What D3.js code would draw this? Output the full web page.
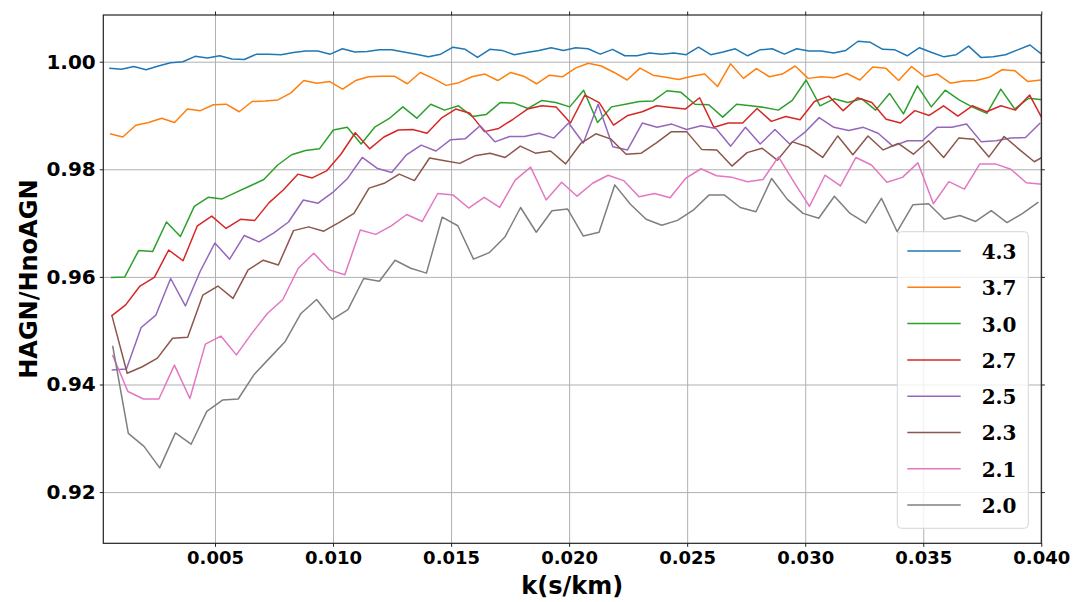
<!DOCTYPE html>
<html>
<head>
<meta charset="utf-8">
<script src="https://cdn.jsdelivr.net/npm/d3@7"></script>
<style>
  body { margin: 0; background: #fff; }
  text { font-weight: bold; }
</style>
</head>
<body>
<svg id="chart" width="1076" height="602"></svg>
<script>
// Ratio of the flux power spectra with / without AGN feedback, one curve per redshift
const redshifts = ["4.3", "3.7", "3.0", "2.7", "2.5", "2.3", "2.1", "2.0"];
const colors = ["#1f77b4", "#ff7f0e", "#2ca02c", "#d62728", "#9467bd", "#8c564b", "#e377c2", "#7f7f7f"];

// k grid spacing (s/km) of each redshift, k_i = (i + 1) * step
const kStep = [0.000520, 0.0005477, 0.000589, 0.0006078, 0.0006243, 0.0006404, 0.0006561, 0.0006646];

const ratioZ43 = [
  0.9988, 0.9986, 0.9991, 0.9985, 0.9992, 0.9998, 1.0000, 1.0010, 1.0007, 1.0011,
  1.0005, 1.0004, 1.0014, 1.0014, 1.0013, 1.0017, 1.0020, 1.0020, 1.0014, 1.0024,
  1.0018, 1.0019, 1.0022, 1.0022, 1.0018, 1.0014, 1.0009, 1.0014, 1.0027, 1.0023,
  1.0008, 1.0023, 1.0021, 1.0013, 1.0017, 1.0021, 1.0026, 1.0021, 1.0026, 1.0024,
  1.0014, 1.0023, 1.0011, 1.0011, 1.0016, 1.0014, 1.0016, 1.0013, 1.0027, 1.0013,
  1.0018, 1.0024, 1.0011, 1.0022, 1.0024, 1.0014, 1.0024, 1.0020, 1.0020, 1.0016,
  1.0021, 1.0038, 1.0036, 1.0023, 1.0022, 1.0011, 1.0026, 1.0017, 1.0009, 1.0013,
  1.0029, 1.0008, 1.0009, 1.0013, 1.0022, 1.0031, 1.0013
];
const ratioZ37 = [
  0.9866, 0.9860, 0.9882, 0.9887, 0.9895, 0.9887, 0.9912, 0.9909, 0.9920, 0.9921,
  0.9907, 0.9926, 0.9927, 0.9929, 0.9942, 0.9965, 0.9960, 0.9963, 0.9949, 0.9965,
  0.9972, 0.9973, 0.9973, 0.9959, 0.9980, 0.9969, 0.9956, 0.9961, 0.9972, 0.9977,
  0.9965, 0.9980, 0.9973, 0.9959, 0.9975, 0.9972, 0.9988, 0.9997, 0.9992, 0.9980,
  0.9966, 0.9988, 0.9975, 0.9971, 0.9967, 0.9973, 0.9977, 0.9954, 0.9996, 0.9969,
  0.9987, 0.9972, 0.9977, 0.9992, 0.9969, 0.9972, 0.9970, 0.9978, 0.9966, 0.9990,
  0.9988, 0.9965, 0.9991, 0.9972, 0.9977, 0.9960, 0.9964, 0.9965, 0.9971, 0.9985,
  0.9983, 0.9963, 0.9966
];
const ratioZ30 = [
  0.9599, 0.9600, 0.9649, 0.9647, 0.9702, 0.9675, 0.9731, 0.9748, 0.9745, 0.9757,
  0.9769, 0.9781, 0.9808, 0.9827, 0.9835, 0.9838, 0.9873, 0.9878, 0.9847, 0.9879,
  0.9894, 0.9916, 0.9895, 0.9921, 0.9910, 0.9918, 0.9898, 0.9902, 0.9924, 0.9923,
  0.9913, 0.9928, 0.9924, 0.9916, 0.9947, 0.9887, 0.9916, 0.9921, 0.9926, 0.9927,
  0.9946, 0.9943, 0.9921, 0.9920, 0.9897, 0.9921, 0.9918, 0.9915, 0.9910, 0.9928,
  0.9966, 0.9918, 0.9931, 0.9924, 0.9931, 0.9910, 0.9941, 0.9903, 0.9955, 0.9916,
  0.9947, 0.9929, 0.9915, 0.9904, 0.9949, 0.9912, 0.9932, 0.9929
];
const ratioZ27 = [
  0.9527, 0.9548, 0.9583, 0.9599, 0.9650, 0.9630, 0.9695, 0.9713, 0.9690, 0.9707,
  0.9705, 0.9738, 0.9762, 0.9791, 0.9784, 0.9797, 0.9828, 0.9868, 0.9838, 0.9860,
  0.9873, 0.9874, 0.9867, 0.9895, 0.9912, 0.9904, 0.9870, 0.9876, 0.9893, 0.9912,
  0.9918, 0.9916, 0.9886, 0.9938, 0.9924, 0.9882, 0.9900, 0.9907, 0.9918, 0.9915,
  0.9912, 0.9933, 0.9878, 0.9886, 0.9886, 0.9913, 0.9889, 0.9898, 0.9892, 0.9926,
  0.9936, 0.9909, 0.9933, 0.9924, 0.9893, 0.9886, 0.9909, 0.9900, 0.9918, 0.9899,
  0.9918, 0.9907, 0.9918, 0.9910, 0.9938, 0.9888
];
const ratioZ25 = [
  0.9427, 0.9429, 0.9506, 0.9529, 0.9597, 0.9546, 0.9610, 0.9663, 0.9633, 0.9677,
  0.9665, 0.9682, 0.9702, 0.9743, 0.9737, 0.9757, 0.9783, 0.9822, 0.9802, 0.9794,
  0.9827, 0.9845, 0.9834, 0.9855, 0.9857, 0.9881, 0.9851, 0.9861, 0.9861, 0.9867,
  0.9858, 0.9886, 0.9849, 0.9921, 0.9842, 0.9836, 0.9886, 0.9878, 0.9884, 0.9874,
  0.9881, 0.9876, 0.9843, 0.9878, 0.9847, 0.9874, 0.9847, 0.9868, 0.9896, 0.9878,
  0.9872, 0.9878, 0.9867, 0.9843, 0.9853, 0.9853, 0.9878, 0.9878, 0.9884, 0.9851,
  0.9853, 0.9858, 0.9859, 0.9886
];
const ratioZ23 = [
  0.9527, 0.9421, 0.9433, 0.9449, 0.9486, 0.9488, 0.9566, 0.9583, 0.9560, 0.9613,
  0.9631, 0.9622, 0.9686, 0.9693, 0.9685, 0.9701, 0.9718, 0.9765, 0.9774, 0.9791,
  0.9779, 0.9821, 0.9816, 0.9811, 0.9825, 0.9830, 0.9822, 0.9843, 0.9830, 0.9834,
  0.9810, 0.9848, 0.9866, 0.9856, 0.9828, 0.9830, 0.9849, 0.9870, 0.9870, 0.9837,
  0.9836, 0.9806, 0.9831, 0.9839, 0.9817, 0.9851, 0.9842, 0.9822, 0.9862, 0.9827,
  0.9862, 0.9836, 0.9848, 0.9828, 0.9853, 0.9822, 0.9858, 0.9856, 0.9823, 0.9861,
  0.9837, 0.9814, 0.9830
];
const ratioZ21 = [
  0.9455, 0.9387, 0.9373, 0.9373, 0.9436, 0.9374, 0.9475, 0.9490, 0.9455, 0.9495,
  0.9532, 0.9558, 0.9616, 0.9644, 0.9613, 0.9604, 0.9687, 0.9679, 0.9695, 0.9716,
  0.9703, 0.9755, 0.9752, 0.9728, 0.9748, 0.9729, 0.9780, 0.9804, 0.9743, 0.9776,
  0.9750, 0.9774, 0.9789, 0.9779, 0.9749, 0.9755, 0.9747, 0.9783, 0.9801, 0.9788,
  0.9785, 0.9777, 0.9781, 0.9823, 0.9776, 0.9731, 0.9789, 0.9769, 0.9822, 0.9808,
  0.9776, 0.9785, 0.9812, 0.9736, 0.9777, 0.9763, 0.9810, 0.9810, 0.9800, 0.9775,
  0.9772
];
const ratioZ20 = [
  0.9472, 0.9309, 0.9285, 0.9245, 0.9310, 0.9289, 0.9350, 0.9371, 0.9373, 0.9418,
  0.9449, 0.9480, 0.9532, 0.9558, 0.9521, 0.9539, 0.9597, 0.9592, 0.9631, 0.9616,
  0.9607, 0.9711, 0.9695, 0.9633, 0.9645, 0.9674, 0.9729, 0.9683, 0.9723, 0.9726,
  0.9676, 0.9683, 0.9771, 0.9735, 0.9707, 0.9696, 0.9705, 0.9724, 0.9752, 0.9752,
  0.9729, 0.9721, 0.9783, 0.9744, 0.9718, 0.9709, 0.9750, 0.9718, 0.9700, 0.9746,
  0.9684, 0.9734, 0.9736, 0.9707, 0.9714, 0.9703, 0.9723, 0.9701, 0.9718, 0.9739
];

const ratios = [ratioZ43, ratioZ37, ratioZ30, ratioZ27, ratioZ25, ratioZ23, ratioZ21, ratioZ20];

const xTicks = [0.005, 0.010, 0.015, 0.020, 0.025, 0.030, 0.035, 0.040];
const yTicks = [0.92, 0.94, 0.96, 0.98, 1.00];

const svg = d3.select("#chart");
const plot = { left: 103.3, right: 1041.3, top: 15, bottom: 543.3 };
const innerWidth = plot.right - plot.left;
const innerHeight = plot.bottom - plot.top;

const xScale = d3.scaleLinear().domain([0.000269, 0.04]).range([0, innerWidth]);
const yScale = d3.scaleLinear().domain([0.91048, 1.00868]).range([innerHeight, 0]);

const g = svg.append("g").attr("transform", `translate(${plot.left},${plot.top})`);

svg.append("defs").append("clipPath").attr("id", "clip")
  .append("rect").attr("width", innerWidth).attr("height", innerHeight);

// grid
g.append("g").attr("class", "grid")
  .attr("transform", `translate(0,${innerHeight})`)
  .call(d3.axisBottom(xScale).tickValues(xTicks).tickSize(-innerHeight));
g.append("g").attr("class", "grid")
  .call(d3.axisLeft(yScale).tickValues(yTicks).tickSize(-innerWidth));
g.selectAll(".grid .domain, .grid text").remove();
g.selectAll(".grid line").attr("stroke", "#b0b0b0").attr("stroke-width", 1);

// curves
const line = d3.line()
  .x((d) => xScale(d.k))
  .y((d) => yScale(d.r));

const lines = g.append("g").attr("clip-path", "url(#clip)");
ratios.forEach((series, s) => {
  const pts = series.map((r, i) => ({ k: (i + 1) * kStep[s], r: r }));
  lines.append("path")
    .datum(pts)
    .attr("fill", "none")
    .attr("stroke", colors[s])
    .attr("stroke-width", 1.5)
    .attr("stroke-linejoin", "round")
    .attr("d", line);
});

// axes: ticks point outwards on all four sides
const tickLen = 3.5;
const xAxisG = g.append("g").attr("class", "axis")
  .attr("transform", `translate(0,${innerHeight})`)
  .call(d3.axisBottom(xScale).tickValues(xTicks).tickSize(tickLen).tickPadding(4).tickFormat(d3.format(".3f")));
const yAxisG = g.append("g").attr("class", "axis")
  .call(d3.axisLeft(yScale).tickValues(yTicks).tickSize(tickLen).tickPadding(4).tickFormat(d3.format(".2f")));
const topG = g.append("g").attr("class", "axis")
  .call(d3.axisTop(xScale).tickValues(xTicks).tickSize(tickLen));
const rightG = g.append("g").attr("class", "axis")
  .attr("transform", `translate(${innerWidth},0)`)
  .call(d3.axisRight(yScale).tickValues(yTicks).tickSize(tickLen));
topG.selectAll("text").remove();
rightG.selectAll("text").remove();

g.selectAll(".axis .domain").remove();
g.selectAll(".axis .tick line").attr("stroke", "#222").attr("stroke-width", 1);

xAxisG.selectAll("text")
  .style("font-family", "'DejaVu Sans', sans-serif")
  .attr("font-size", 18).attr("fill", "#000");
yAxisG.selectAll("text")
  .style("font-family", "'DejaVu Sans', sans-serif")
  .attr("font-size", 20).attr("fill", "#000");

g.append("rect")
  .attr("width", innerWidth)
  .attr("height", innerHeight)
  .attr("fill", "none")
  .attr("stroke", "#222")
  .attr("stroke-width", 1.2);

// axis titles
svg.append("text")
  .attr("x", plot.left + innerWidth / 2)
  .attr("y", 594)
  .attr("text-anchor", "middle")
  .style("font-family", "'DejaVu Sans', sans-serif")
  .attr("font-size", 24)
  .text("k(s/km)");

svg.append("text")
  .attr("transform", `translate(37,${plot.top + innerHeight / 2}) rotate(-90)`)
  .attr("text-anchor", "middle")
  .style("font-family", "'DejaVu Sans', sans-serif")
  .attr("font-size", 24)
  .text("HAGN/HnoAGN");

// legend
const legend = svg.append("g").attr("transform", "translate(897.3,231.7)");
legend.append("rect")
  .attr("width", 131)
  .attr("height", 296.6)
  .attr("rx", 4)
  .attr("fill", "#fff")
  .attr("fill-opacity", 0.8)
  .attr("stroke", "#d6d6d6");

redshifts.forEach((z, j) => {
  const yy = 19.3 + j * 36.3;
  legend.append("line")
    .attr("x1", 10).attr("x2", 63.4)
    .attr("y1", yy).attr("y2", yy)
    .attr("stroke", colors[j]).attr("stroke-width", 1.5);
  legend.append("text")
    .attr("x", 84.4)
    .attr("y", yy + 8)
    .style("font-family", "'DejaVu Serif', serif")
    .attr("font-size", 20)
    .text(z);
});
</script>
</body>
</html>
